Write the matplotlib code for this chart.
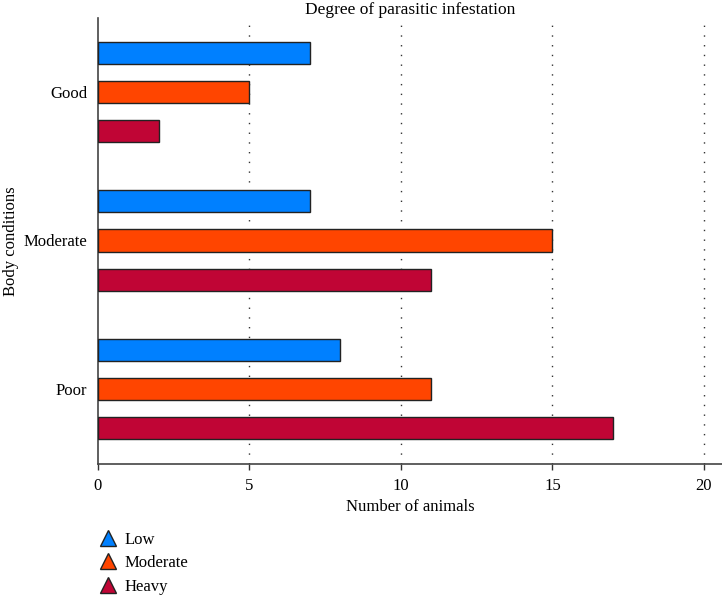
import matplotlib
matplotlib.use("Agg")
import matplotlib.pyplot as plt
from matplotlib.lines import Line2D
import numpy as np

plt.rcParams['font.family'] = ['Liberation Serif', 'DejaVu Serif']

categories = ["Poor", "Moderate", "Good"]
series_names = ["Low", "Moderate", "Heavy"]
low = [8, 7, 7]
moderate = [11, 15, 5]
heavy = [17, 11, 2]
colors = ["#0080FF", "#FF4500", "#C00535"]
xticks = [0, 5, 10, 15, 20]

fig = plt.figure(figsize=(7.22, 5.96), dpi=100)
ax = fig.add_axes([98/722, (596-464)/596, (722-98)/722, (464-18)/596])

y = np.arange(len(categories))
offset = 0.2635
h = 0.149
for vals, off, c in zip([low, moderate, heavy], [offset, 0, -offset], colors):
    ax.barh(y + off, vals, height=h, color=c, edgecolor="#222222", linewidth=1.0, zorder=3)

ax.set_xlim(0, 20.6)
ax.set_ylim(-0.507, 2.5)
ax.set_xticks(xticks)
ax.set_yticks(y)
ax.set_yticklabels(categories)
ax.tick_params(axis='x', length=4, width=1, color="#333333", labelsize=12, pad=6)
ax.tick_params(axis='y', length=0, labelsize=12, pad=11/1.39)
for x in xticks[1:]:
    ax.axvline(x, color="#333333", linestyle=(0, (1, 6)), linewidth=1.0, zorder=1)
for s in ["top", "right"]:
    ax.spines[s].set_visible(False)
for s in ["left", "bottom"]:
    ax.spines[s].set_color("#444444")
    ax.spines[s].set_linewidth(1.2)

ax.set_xlabel("Number of animals", fontsize=12, labelpad=4)
ax.set_ylabel("Body conditions", fontsize=12)
ax.yaxis.set_label_coords((19 - 98) / 624, 0.5)
ax.set_title("Degree of parasitic infestation", fontsize=12.5, pad=2)

handles = [Line2D([], [], marker="^", linestyle="none", markersize=12,
                  markerfacecolor=c, markeredgecolor="#222222", markeredgewidth=1.0)
           for c in colors]
fig.legend(handles, series_names, loc="upper left", bbox_to_anchor=(86/722, 1 - 520/596),
           frameon=False, fontsize=12, handletextpad=0.4, labelspacing=0.45,
           handlelength=1.2, borderpad=0.2)

fig.savefig("out.png", dpi=100)
